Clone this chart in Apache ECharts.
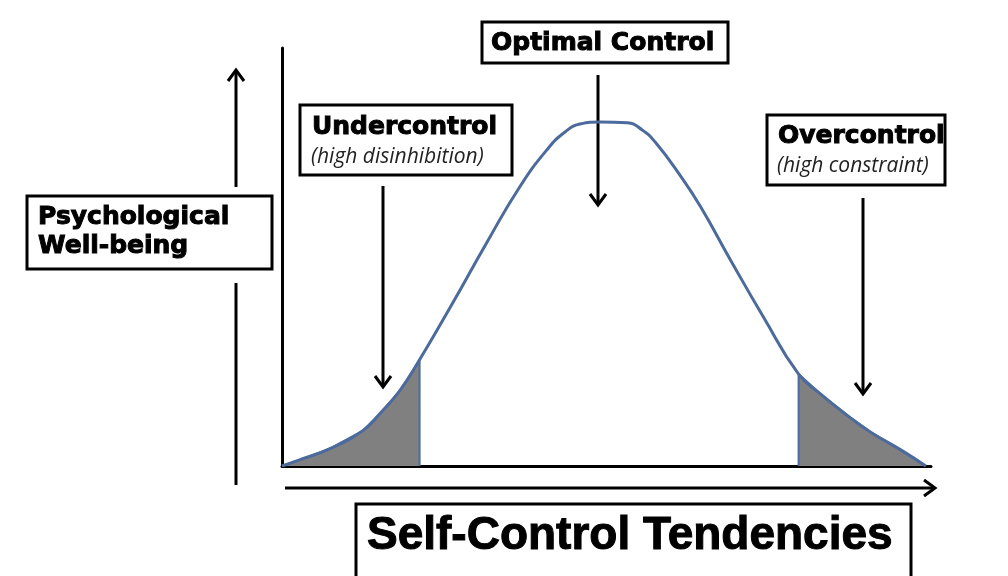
<!DOCTYPE html>
<html>
<head>
<meta charset="utf-8">
<script src="https://cdn.jsdelivr.net/npm/echarts@6/dist/echarts.min.js"></script>
<style>
  html, body { margin: 0; padding: 0; background: #fff; }
  #chart { width: 1008px; height: 576px; }
</style>
</head>
<body>
<div id="chart"></div>
<script>
// self-control (x) vs psychological well-being (y)
const curveX = [0, 2.6, 7.3, 12.4, 15.0, 18.1, 21.2, 26.3, 31.5, 36.6, 40.8, 43.6, 45.9, 49.0, 53.2, 55.5, 57.5, 61.4, 64.5, 69.1, 74.2, 79.6, 83.0, 87.2, 90.7, 95.4, 99.2];
const curveY = [0, 1.4, 4.1, 8.4, 12.4, 17.9, 25.4, 39.0, 53.3, 66.7, 75.6, 79.9, 81.8, 82.3, 82.1, 80.4, 77.5, 69.4, 62.0, 49.3, 35.6, 22.0, 17.2, 12.0, 8.1, 3.8, 0];
const underLimit = 21.2;
const overLimit = 79.6;

const curve = curveX.map((x, i) => [x, curveY[i]]);
const leftTail = curve.filter((p) => p[0] <= underLimit).concat([[underLimit, 0]]);
const rightTail = [[overLimit, 0]].concat(curve.filter((p) => p[0] >= overLimit));

const blue = '#4c6b9c';
const boldFont = '"DejaVu Sans", sans-serif';
const italicFont = 'italic 21px "Open Sans", sans-serif';

const arrowDown = (x, y1, y2) => [
  { type: 'line', shape: { x1: x, y1: y1, x2: x, y2: y2 }, style: { stroke: '#000', lineWidth: 3 } },
  { type: 'polyline', shape: { points: [[x - 8, y2 - 11], [x, y2], [x + 8, y2 - 11]] }, style: { stroke: '#000', lineWidth: 3, fill: null } },
];

const box = (x, y, w, h) => ({
  type: 'rect', shape: { x: x, y: y, width: w, height: h },
  style: { fill: '#fff', stroke: '#000', lineWidth: 3 },
});

// heavy labels get a thin stroke to look like the black display face
const label = (x, y, text, font, heavy) => ({
  type: 'text', x: x, y: y,
  style: {
    text: text, font: font, fill: heavy ? '#000' : '#222', verticalAlign: 'middle',
    stroke: heavy ? '#000' : null, lineWidth: heavy ? 1 : 0,
  },
});

const chart = echarts.init(document.getElementById('chart'));

chart.setOption({
  animation: false,
  backgroundColor: '#fff',
  grid: { left: 282, right: 77, top: 48, bottom: 110 },
  xAxis: {
    type: 'value', min: 0, max: 100,
    axisLine: { show: true, onZero: false, lineStyle: { color: '#000', width: 3 } },
    axisTick: { show: false }, axisLabel: { show: false }, splitLine: { show: false },
  },
  yAxis: {
    type: 'value', min: 0, max: 100,
    axisLine: { show: true, lineStyle: { color: '#000', width: 3 } },
    axisTick: { show: false }, axisLabel: { show: false }, splitLine: { show: false },
  },
  series: [
    {
      type: 'line', data: leftTail, showSymbol: false, z: 2,
      lineStyle: { color: blue, width: 2 },
      areaStyle: { color: '#808080', opacity: 1 },
    },
    {
      type: 'line', data: rightTail, showSymbol: false, z: 2,
      lineStyle: { color: blue, width: 2 },
      areaStyle: { color: '#808080', opacity: 1 },
    },
    {
      type: 'line', data: curve, showSymbol: false, smooth: 0.5, z: 3,
      lineStyle: { color: blue, width: 3 },
    },
  ],
  graphic: [
    // horizontal axis arrow
    { type: 'line', shape: { x1: 285, y1: 488, x2: 934, y2: 488 }, style: { stroke: '#000', lineWidth: 3 } },
    { type: 'polyline', shape: { points: [[924, 480], [935, 488], [924, 496]] }, style: { stroke: '#000', lineWidth: 3, fill: null } },
    // vertical axis arrow
    { type: 'line', shape: { x1: 236, y1: 70, x2: 236, y2: 187 }, style: { stroke: '#000', lineWidth: 3 } },
    { type: 'polyline', shape: { points: [[228, 81], [236, 70], [244, 81]] }, style: { stroke: '#000', lineWidth: 3, fill: null } },
    { type: 'line', shape: { x1: 236, y1: 283, x2: 236, y2: 485 }, style: { stroke: '#000', lineWidth: 3 } },

    ...arrowDown(598, 75, 205),
    ...arrowDown(383, 186, 387),
    ...arrowDown(863, 198, 394),

    box(27, 196, 245, 73),
    label(38, 217, 'Psychological', 'bold 25px ' + boldFont, true),
    label(38, 246, 'Well-being', 'bold 25px ' + boldFont, true),

    box(482, 22, 246, 41),
    label(491, 43, 'Optimal Control', 'bold 25px ' + boldFont, true),

    box(300, 105, 212, 70),
    label(312, 127, 'Undercontrol', 'bold 25px ' + boldFont, true),
    label(311, 157, '(high disinhibition)', italicFont, false),

    box(767, 115, 178, 70),
    label(778, 136, 'Overcontrol', 'bold 25px ' + boldFont, true),
    label(777, 166, '(high constraint)', italicFont, false),

    box(356, 504, 555, 90),
    label(367, 536, 'Self-Control Tendencies', 'bold 46px "Liberation Sans", Arial, sans-serif', true),
  ],
});
</script>
</body>
</html>
